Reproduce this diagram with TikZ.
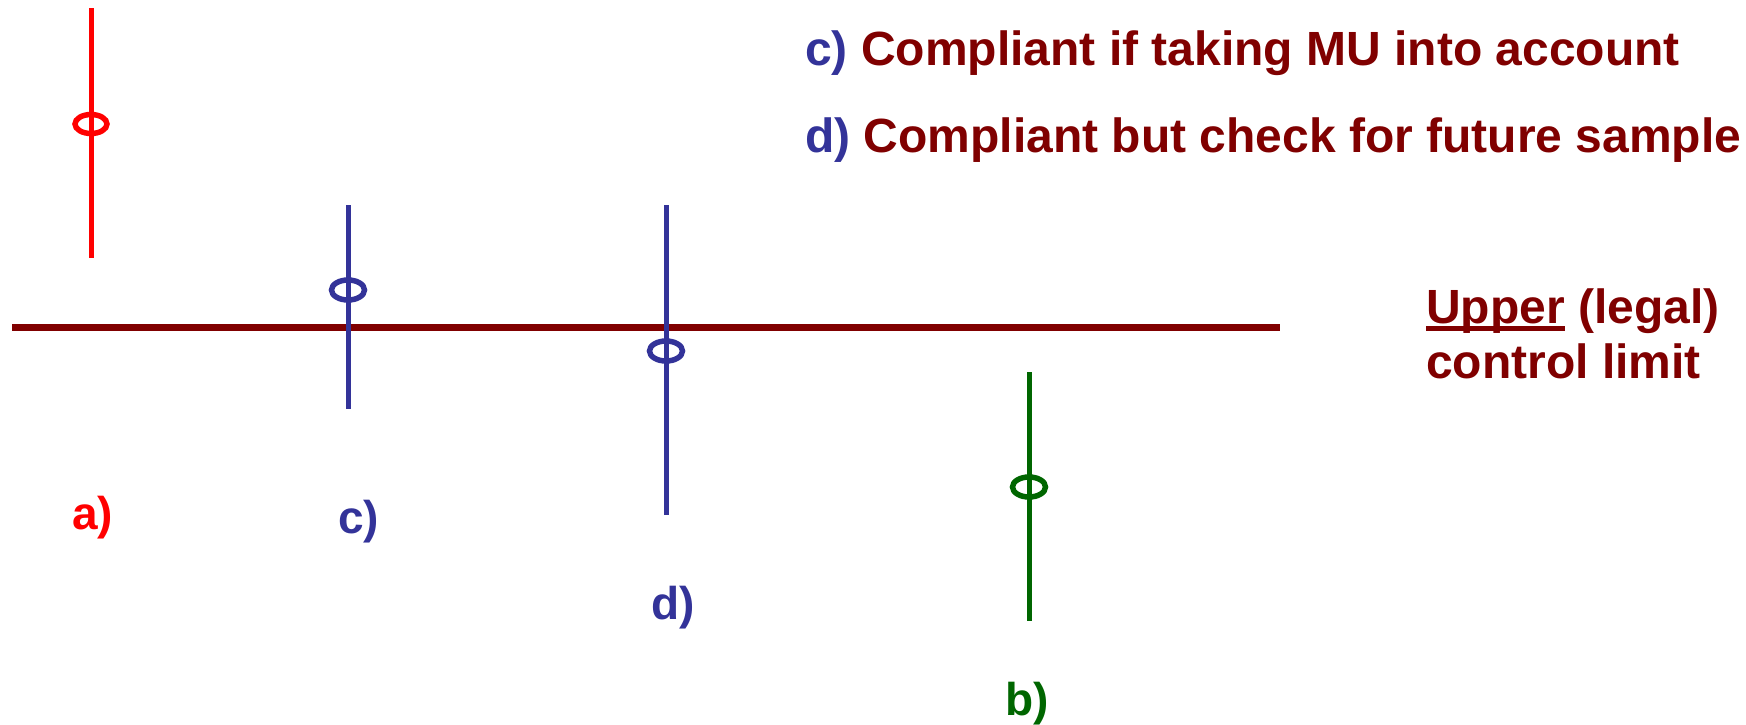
\documentclass[tikz,border=0pt]{standalone}
\usepackage{fontspec}
\setmainfont{Liberation Sans}
\definecolor{limred}{HTML}{800000}
\definecolor{barblue}{HTML}{333399}
\definecolor{bargreen}{HTML}{006600}
\definecolor{barred}{HTML}{FF0000}
\newcommand{\thickul}[1]{\leavevmode\setbox0\hbox{#1}\rlap{\rule[-8pt]{\wd0}{5pt}}\box0\relax}
\begin{document}
\begin{tikzpicture}[x=1pt,y=-1pt,
  bar/.style={line width=5pt},
  mark ellipse/.style={line width=5.5pt},
  lbl/.style={anchor=base west, inner sep=0pt, font=\fontsize{46}{50}\selectfont\bfseries},
  big/.style={anchor=base west, inner sep=0pt, font=\fontsize{48}{56}\selectfont\bfseries, text=limred},
]
\useasboundingbox (0,0) rectangle (1746,724);
% limit line
\coordinate (limL) at (12,327);
\coordinate (limR) at (1280,327);
\draw[limred, line width=7pt] (limL) -- (limR);
% a) red
\coordinate (aT) at (91,8);
\coordinate (aB) at (91,258);
\coordinate (aM) at (91,124);
\draw[barred, bar] (aT) -- (aB);
\draw[barred, mark ellipse] (aM) ellipse [x radius=16, y radius=9.5];
% c) blue
\coordinate (cT) at (348,205);
\coordinate (cB) at (348,409);
\coordinate (cM) at (348,290);
\draw[barblue, bar] (cT) -- (cB);
\draw[barblue, mark ellipse] (cM) ellipse [x radius=16.5, y radius=10];
% d) blue
\coordinate (dT) at (666,205);
\coordinate (dB) at (666,515);
\coordinate (dM) at (666,351);
\draw[barblue, bar] (dT) -- (dB);
\draw[barblue, mark ellipse] (dM) ellipse [x radius=16.5, y radius=10];
% b) green
\coordinate (bT) at (1029,372);
\coordinate (bB) at (1029,621);
\coordinate (bM) at (1029,487);
\draw[bargreen, bar] (bT) -- (bB);
\draw[bargreen, mark ellipse] (bM) ellipse [x radius=16.5, y radius=10];
% labels
\node[lbl, text=barred] (la) at (72,529) {a)};
\node[lbl, text=barblue] (lc) at (338,533) {c)};
\node[lbl, text=barblue] (ld) at (651,619) {d)};
\node[lbl, text=bargreen] (lb) at (1005,715) {b)};
% legend
\node[big] (t1) at (805,65) {\textcolor{barblue}{c)} Compliant if taking MU into account};
\node[big] (t2) at (805,152) {\textcolor{barblue}{d)} Compliant but check for future sample};
\node[big] (u1) at (1426,323) {\thickul{Upper} (legal)};
\node[big] (u2) at (1426,378) {control limit};
\end{tikzpicture}
\end{document}
